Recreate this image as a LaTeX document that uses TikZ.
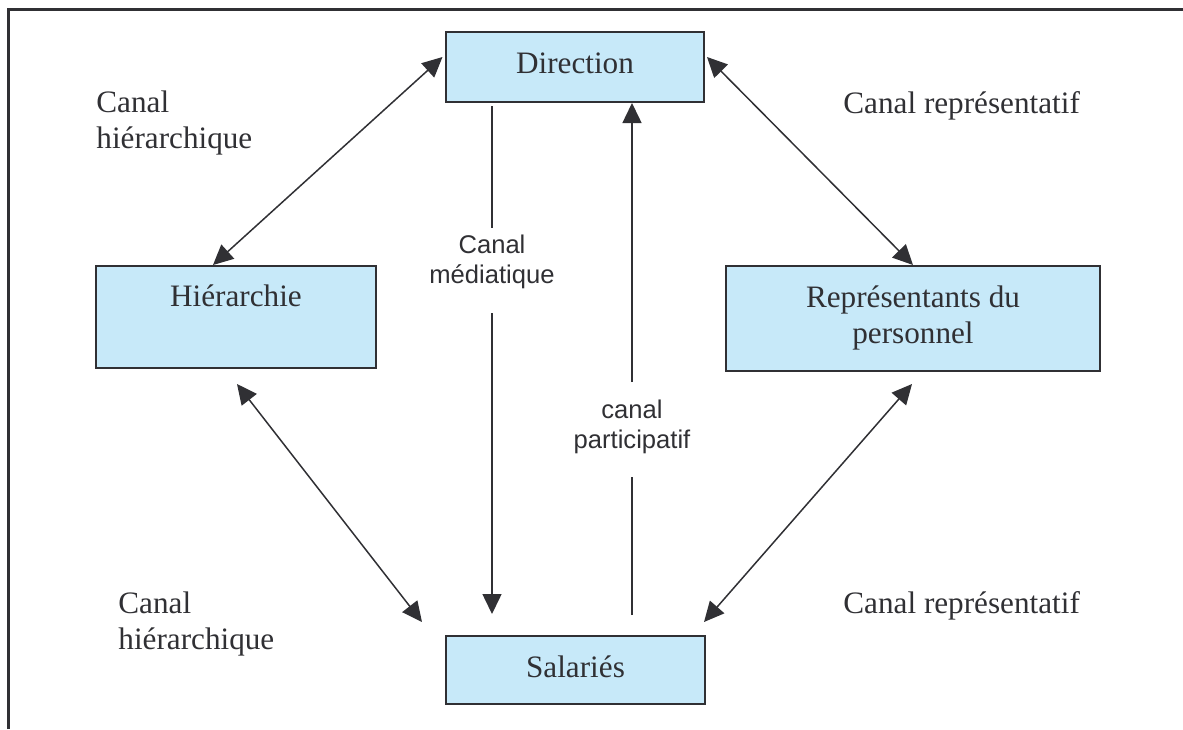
\documentclass[tikz,border=0pt]{standalone}
\usepackage{fontspec}
\setmainfont{Liberation Serif}
\newfontfamily\labelsans{Liberation Sans}
\usetikzlibrary{arrows.meta,calc}
\definecolor{boxfill}{RGB}{199,233,249}
\definecolor{ink}{RGB}{48,48,52}
\begin{document}
\begin{tikzpicture}[x=0.5pt,y=-0.5pt,
  box/.style={draw=ink, line width=1pt, fill=boxfill, text=ink, align=center,
    inner sep=0pt, text depth=0.38em, font=\fontsize{15.6}{18}\selectfont},
  caption/.style={text=ink, align=left, inner sep=0pt, anchor=north west,
    font=\fontsize{15.6}{18}\selectfont},
  sanslabel/.style={text=ink, align=center, inner sep=0pt, anchor=north,
    font=\labelsans\fontsize{12.8}{15}\selectfont},
  link/.style={draw=ink, line width=0.75pt},
  tip/.style={-{Triangle[length=10pt,width=9.5pt]}},
  both/.style={{Triangle[length=10pt,width=9.5pt]}-{Triangle[length=10pt,width=9.5pt]}}]

\useasboundingbox (0,0) rectangle (1183,729);

% outer frame (top and left edges)
\draw[ink, line width=1.5pt] (8,729) -- (8,9) -- (1183,9);

% boxes
\node[box, minimum width=129pt, minimum height=35pt] (dir) at (575,67) {Direction};
\node[box, minimum width=140pt, minimum height=51pt] (hier) at (236,317) {Hiérarchie\\\mbox{}};
\node[box, minimum width=187pt, minimum height=52.5pt] (rep) at (913,318.5) {Représentants du\\personnel};
\node[box, minimum width=129.5pt, minimum height=34pt] (sal) at (575.5,670) {Salariés};

% channel captions
\node[caption] (c1) at (96,90) {Canal\\hiérarchique};
\node[caption] (c2) at (843,91) {Canal représentatif};
\node[caption] (c3) at (118,591) {Canal\\hiérarchique};
\node[caption] (c4) at (843,591) {Canal représentatif};

% labels on the vertical channels
\node[sanslabel] (med) at (492,235) {Canal\\médiatique};
\node[sanslabel] (part) at (632,400) {canal\\participatif};

% free ends of the interrupted vertical lines
\coordinate (medtop) at (492,228);
\coordinate (medbot) at (492,313);
\coordinate (parttop) at (632,382);
\coordinate (partbot) at (632,477);

% two-way channels
\draw[link,both] ($(dir.west)+(-2.5,-10)$) -- ($(hier.north)+(-23,0)$);
\draw[link,both] ($(dir.east)+(2,-10)$) -- (rep.north);
\draw[link,both] ($(hier.south)+(1,15)$) -- ($(sal.north west)+(-23,-13)$);
\draw[link,both] ($(rep.south)+(-1,12)$) -- ($(sal.north east)+(-2,-13)$);

% canal mediatique: downward
\draw[link, shorten <=1.5pt] (dir.south -| medtop) -- (medtop);
\draw[link,tip, shorten >=10.5pt] (medbot) -- (sal.north -| medbot);

% canal participatif: upward
\draw[link, shorten <=10pt] (sal.north -| partbot) -- (partbot);
\draw[link,tip] (parttop) -- (dir.south -| parttop);
\end{tikzpicture}
\end{document}
